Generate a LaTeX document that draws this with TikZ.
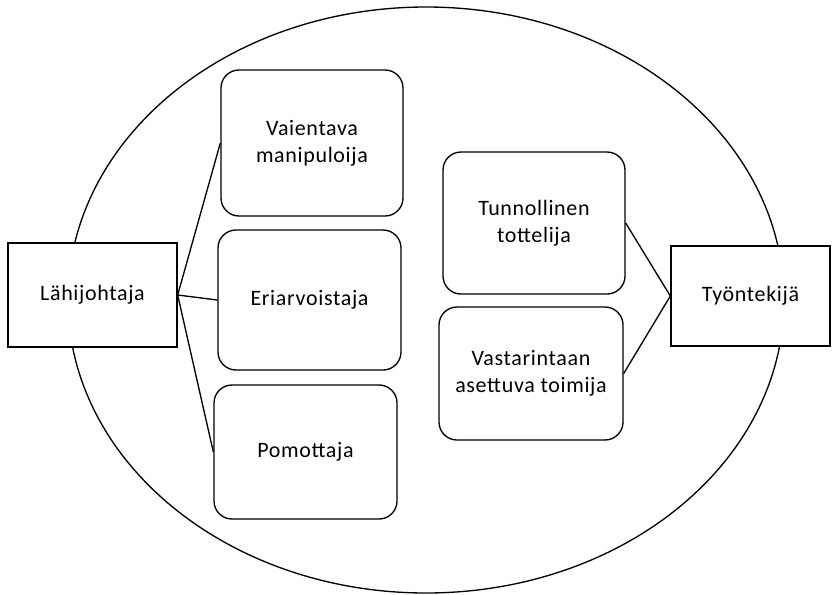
\documentclass[tikz,border=0pt]{standalone}
\usepackage{fontspec}
\setmainfont[LetterSpace=3]{Carlito}
\usetikzlibrary{positioning}

\tikzset{
    actor/.style={draw, fill=white, rectangle, inner sep=0pt, line width=1pt},
    role/.style={draw, fill=white, rounded corners=13.5pt, align=center, inner sep=0pt, line width=1pt}
}

\begin{document}
\begin{tikzpicture}[x=0.75pt, y=-0.75pt, font=\fontsize{16.5}{20}\selectfont, line width=1pt]
        \useasboundingbox (0,0) rectangle (832,594);
        \draw (426,300) ellipse [x radius=268.5pt, y radius=219.75pt];

        % lahijohtaja and its styles
        \node [actor, minimum width=126.75pt, minimum height=78pt] (boss) at (92.5,295) {Lähijohtaja};
        \node [role, minimum width=136.5pt, minimum height=109.5pt] (silencer) at (312,143) {Vaientava\\manipuloija};
        \node [role, minimum width=137.25pt, minimum height=105pt] (unequal) at (309.5,300) {Eriarvoistaja};
        \node [role, minimum width=137.25pt, minimum height=100.5pt] (bossy) at (305.5,452) {Pomottaja};

        % tyontekija and its styles
        \node [actor, minimum width=119.25pt, minimum height=75pt] (worker) at (750.5,296) {Työntekijä};
        \node [role, minimum width=136.5pt, minimum height=106.5pt] (obeyer) at (534,223) {Tunnollinen\\tottelija};
        \node [role, minimum width=138pt, minimum height=99.75pt] (resister) at (531,373.5) {Vastarintaan\\asettuva toimija};

        \draw (boss.east) -- (silencer.west);
        \draw (boss.east) -- (unequal.west);
        \draw (boss.east) -- (bossy.west);
        \draw (obeyer.east) -- (worker.west);
        \draw (resister.east) -- (worker.west);
    \end{tikzpicture}
\end{document}
